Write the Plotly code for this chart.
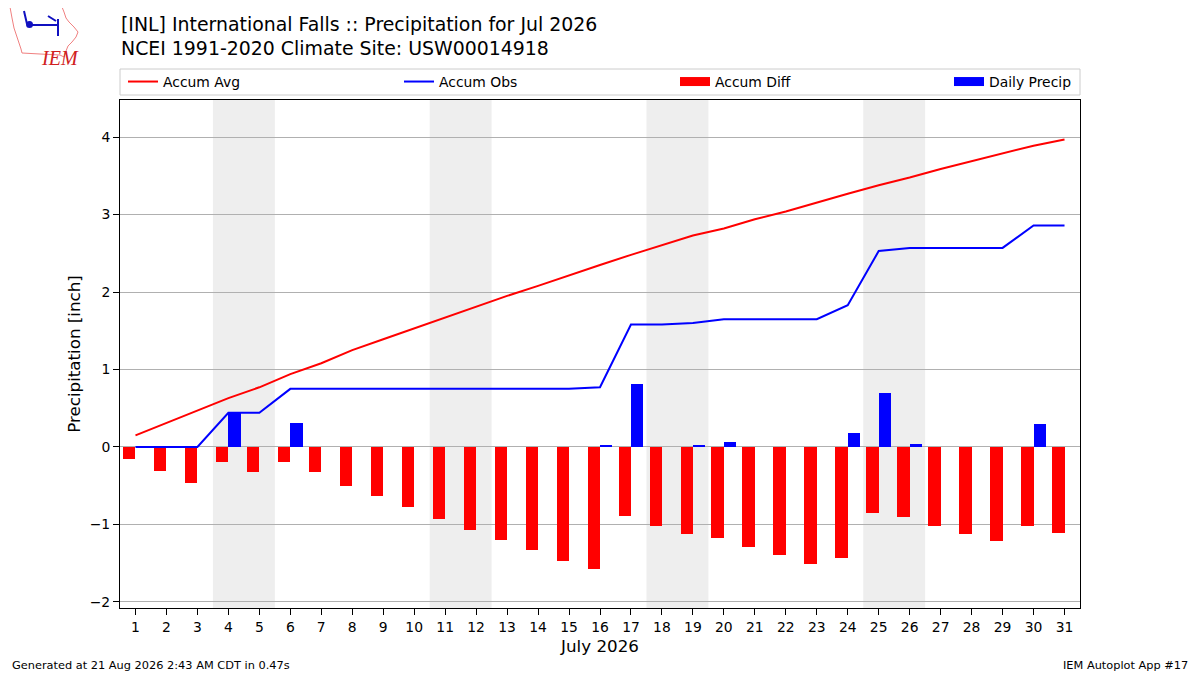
import plotly.graph_objects as go

days = list(range(1, 32))
accum_avg = [0.15, 0.31, 0.47, 0.63, 0.77, 0.94, 1.08, 1.25, 1.39, 1.53,
             1.68, 1.82, 1.95, 2.08, 2.22, 2.35, 2.48, 2.61, 2.73, 2.82,
             2.94, 3.04, 3.16, 3.27, 3.38, 3.48, 3.59, 3.69, 3.79, 3.89, 3.97]
accum_obs = [0.0, 0.0, 0.0, 0.44, 0.44, 0.75, 0.75, 0.75, 0.75, 0.75,
             0.75, 0.75, 0.75, 0.75, 0.75, 0.77, 1.58, 1.58, 1.60, 1.65,
             1.65, 1.65, 1.65, 1.83, 2.53, 2.57, 2.57, 2.57, 2.57, 2.86, 2.86]
accum_diff = [-0.15, -0.31, -0.47, -0.19, -0.33, -0.19, -0.33, -0.50, -0.64, -0.78,
              -0.93, -1.07, -1.20, -1.33, -1.47, -1.57, -0.89, -1.02, -1.12, -1.17,
              -1.29, -1.39, -1.51, -1.44, -0.85, -0.91, -1.02, -1.12, -1.22, -1.02, -1.11]
daily_precip = [0, 0, 0, 0.44, 0, 0.31, 0, 0, 0, 0,
                0, 0, 0, 0, 0, 0.03, 0.81, 0, 0.03, 0.06,
                0, 0, 0, 0.18, 0.70, 0.04, 0, 0, 0, 0.30, 0]
weekends = [(3.5, 5.5), (10.5, 12.5), (17.5, 19.5), (24.5, 26.5)]

FONT = "DejaVu Sans"
# page body has an 8px margin, so the figure is 8px smaller and margins shifted
W, H = 1192, 667
PW, PH = 960, 508


def px(x):
    return (x - 120) / PW


def py(y):
    return (608 - y) / PH


fig = go.Figure()
fig.add_trace(go.Bar(x=days, y=accum_diff, name="Accum Diff", marker_color="red",
                     marker_line_width=0, width=0.4, offset=-0.4, showlegend=False))
fig.add_trace(go.Bar(x=days, y=daily_precip, name="Daily Precip", marker_color="blue",
                     marker_line_width=0, width=0.4, offset=0, showlegend=False))
fig.add_trace(go.Scatter(x=days, y=accum_avg, mode="lines", name="Accum Avg",
                         line=dict(color="red", width=2), legend="legend"))
fig.add_trace(go.Scatter(x=days, y=accum_obs, mode="lines", name="Accum Obs",
                         line=dict(color="blue", width=2), legend="legend2"))
# legend patches for the bars
fig.add_trace(go.Scatter(x=[None], y=[None], mode="lines", name="Accum Diff",
                         line=dict(color="red", width=9), legend="legend3"))
fig.add_trace(go.Scatter(x=[None], y=[None], mode="lines", name="Daily Precip",
                         line=dict(color="blue", width=9), legend="legend4"))

for x0, x1 in weekends:
    fig.add_shape(type="rect", xref="x", yref="paper", x0=x0, x1=x1, y0=0, y1=1,
                  fillcolor="#eeeeee", line_width=0, layer="below")

# legend frame
fig.add_shape(type="rect", xref="paper", yref="paper", x0=px(120), x1=px(1080),
              y0=py(95), y1=py(69), line=dict(color="#cccccc", width=1),
              fillcolor="rgba(255,255,255,0.8)", layer="above")

# rough IEM logo: Iowa outline plus weather symbol
logo = dict(xref="paper", yref="paper", xsizemode="pixel", ysizemode="pixel",
            xanchor=0, yanchor=1)
fig.add_shape(type="path", **logo,
              path="M -110 93 L -58 93 L -56 88 L -54 82 L -51 78 L -46 73 L -42 68 "
                   "L -44 63 L -48 58 L -52 54 L -54 49 L -56 43 L -60 45 L -80 46 "
                   "L -98 47 L -99 51 L -102 60 L -106 72 L -108 82 Z",
              line=dict(color="#f08080", width=1))
fig.add_shape(type="path", **logo,
              path="M -90 75 L -62 75 M -62 81 L -62 64 M -72 84 L -64 79 "
                   "M -96 89 L -93 76",
              line=dict(color="#1010c0", width=2))
fig.add_shape(type="circle", **logo, x0=-94, x1=-87, y0=72, y1=79,
              fillcolor="#1010c0", line_width=0)
fig.add_annotation(text="<i>IEM</i>", xref="paper", yref="paper",
                   x=px(39), y=py(45), showarrow=False,
                   font=dict(family="Liberation Serif", size=20, color="#d02020"))

fig.add_annotation(text="[INL] International Falls :: Precipitation for Jul 2026",
                   xref="paper", yref="paper", x=px(119), y=py(24),
                   xanchor="left", yanchor="middle", showarrow=False,
                   font=dict(family=FONT, size=18.9, color="black"))
fig.add_annotation(text="NCEI 1991-2020 Climate Site: USW00014918",
                   xref="paper", yref="paper", x=px(119), y=py(48),
                   xanchor="left", yanchor="middle", showarrow=False,
                   font=dict(family=FONT, size=18.9, color="black"))
fig.add_annotation(text="Generated at 21 Aug 2026 2:43 AM CDT in 0.47s",
                   xref="paper", yref="paper", x=px(10), y=py(665),
                   xanchor="left", yanchor="middle", showarrow=False,
                   font=dict(family=FONT, size=11.35, color="black"))
fig.add_annotation(text="IEM Autoplot App #17",
                   xref="paper", yref="paper", x=px(1190), y=py(665),
                   xanchor="right", yanchor="middle", showarrow=False,
                   font=dict(family=FONT, size=11.35, color="black"))

leg = dict(orientation="h", yanchor="middle", xanchor="left", y=py(82),
           bgcolor="rgba(0,0,0,0)", borderwidth=0, font=dict(size=13.9))

fig.update_layout(
    width=W, height=H,
    margin=dict(l=112, r=120, t=92, b=67),
    paper_bgcolor="white", plot_bgcolor="white",
    font=dict(family=FONT, size=13.9, color="black"),
    barmode="overlay", bargap=0,
    showlegend=True,
    legend=dict(leg, x=px(123)),
    legend2=dict(leg, x=px(399)),
    legend3=dict(leg, x=px(675)),
    legend4=dict(leg, x=px(949)),
    xaxis=dict(range=[0.5, 31.5], tickvals=days, ticks="outside", ticklen=6,
               tickcolor="black", showgrid=False, zeroline=False,
               showline=True, linecolor="black", mirror=True,
               title=dict(text="July 2026", font=dict(size=16.7), standoff=6)),
    yaxis=dict(range=[-2.08, 4.48], tickvals=[-2, -1, 0, 1, 2, 3, 4], ticks="outside",
               ticklen=6, tickcolor="black", showgrid=True, gridcolor="#b0b0b0",
               zeroline=False, showline=True, linecolor="black", mirror=True,
               title=dict(text="Precipitation [inch]", font=dict(size=16.7), standoff=4)),
)

fig.write_html("out.html")
